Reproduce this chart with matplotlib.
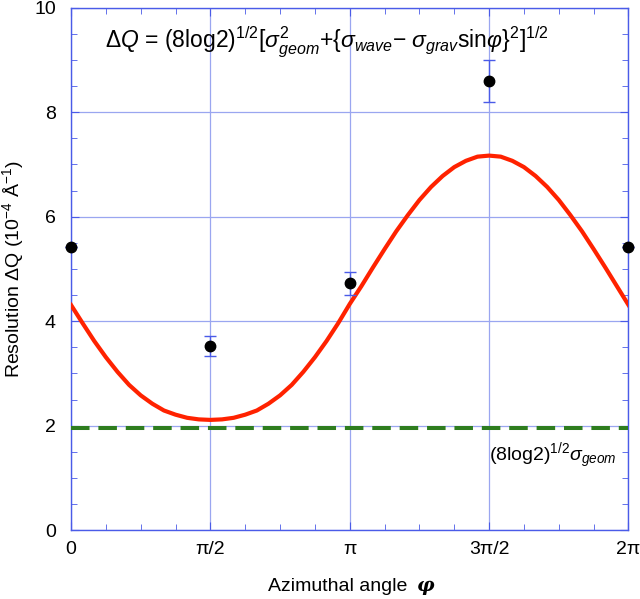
"""Resolution vs azimuthal angle, with model curve and geometric floor."""

import matplotlib.pyplot as plt
import numpy as np

plt.rcParams["font.family"] = ["Liberation Sans", "DejaVu Sans"]
plt.rcParams["mathtext.fontset"] = "custom"
plt.rcParams["mathtext.rm"] = "Liberation Sans"
plt.rcParams["mathtext.it"] = "Liberation Sans:italic"
plt.rcParams["mathtext.bf"] = "Liberation Sans:bold"

# measured points (angle in units of pi)
meas_phi = [0.0, 0.5, 1.0, 1.5, 2.0]
meas_dq = [5.42, 3.52, 4.73, 8.60, 5.42]
meas_err = [0.0, 0.19, 0.22, 0.40, 0.0]

# model curve, every pi/24
curve_phi = [i / 24 for i in range(49)]
curve_dq = [4.31, 3.96, 3.62, 3.31, 3.03, 2.78, 2.58, 2.42, 2.29, 2.21, 2.15, 2.12,
            2.11, 2.12, 2.15, 2.21, 2.29, 2.42, 2.58, 2.78, 3.03, 3.31, 3.62, 3.96,
            4.33, 4.67, 5.03, 5.38, 5.72, 6.03, 6.32, 6.57, 6.78, 6.95, 7.07, 7.15,
            7.17, 7.15, 7.07, 6.95, 6.78, 6.57, 6.32, 6.03, 5.72, 5.38, 5.03, 4.67,
            4.31]

geom_level = 1.96

xtick_labels = ["0", "π/2", "π", "3π/2", "2π"]

blue = "#4a5be8"
grid_blue = "#9aa6f0"

fig = plt.figure(figsize=(6.4, 5.99), dpi=100)
ax = fig.add_axes([0.111, 0.115, 0.871, 0.872])

ax.plot(np.array(curve_phi) * np.pi, curve_dq, color="#ff2200", lw=3.0, zorder=3,
        solid_joinstyle="round")
ax.axhline(geom_level, color="#2e7d1e", lw=2.9, dashes=(4.6, 2.2), zorder=3)
ax.errorbar(np.array(meas_phi) * np.pi, meas_dq, yerr=meas_err, fmt="o", color="black",
            ms=7.5, ecolor=blue, elinewidth=1.0, capsize=4, capthick=1.0, zorder=4,
            clip_on=False)

ax.set_xlim(0, 2 * np.pi)
ax.set_ylim(0, 10)
ax.set_xticks(np.arange(5) * np.pi / 2)
ax.set_xticklabels(xtick_labels)
ax.set_xticks(np.arange(17) * np.pi / 8, minor=True)
ax.set_yticks(np.arange(0, 11, 2))
ax.set_yticks(np.arange(0, 10.01, 0.5), minor=True)

ax.grid(True, which="major", color=grid_blue, lw=0.9)
for s in ax.spines.values():
    s.set_color(blue)
    s.set_linewidth(1.0)
ax.tick_params(which="both", direction="in", top=True, right=True, color=blue,
               labelsize=14)
ax.tick_params(axis="x", pad=8)
ax.tick_params(axis="y", pad=11)
ax.tick_params(which="major", length=6)
ax.tick_params(which="minor", length=4)

# x label with a bold italic phi tacked on after it
xlab = ax.set_xlabel("Azimuthal angle", fontsize=14, labelpad=14)
xlab.set_x(0.478)
ax.annotate("φ", xy=(1, 0), xycoords=xlab, xytext=(7, 0), textcoords="offset points",
            ha="left", va="bottom", fontsize=14, family="DejaVu Serif",
            fontstyle="italic", fontweight="bold")
ax.set_ylabel(r"Resolution $\Delta$Q (10$^{-4}$ Å$^{-1}$)", fontsize=14, labelpad=6)

ax.text(0.061, 0.935,
        r"$\Delta Q$ = (8log2)$^{1/2}$[$\sigma^{2}_{geom}$+{$\sigma_{wave}$$-$ $\sigma_{grav}$sin$\varphi$}$^{2}$]$^{1/2}$",
        transform=ax.transAxes, fontsize=16.5, va="center", ha="left")
ax.text(1.5 * np.pi, 1.42, r"(8log2)$^{1/2}\sigma_{geom}$", fontsize=14,
        va="center", ha="left")

fig.savefig("out.png", dpi=100)
